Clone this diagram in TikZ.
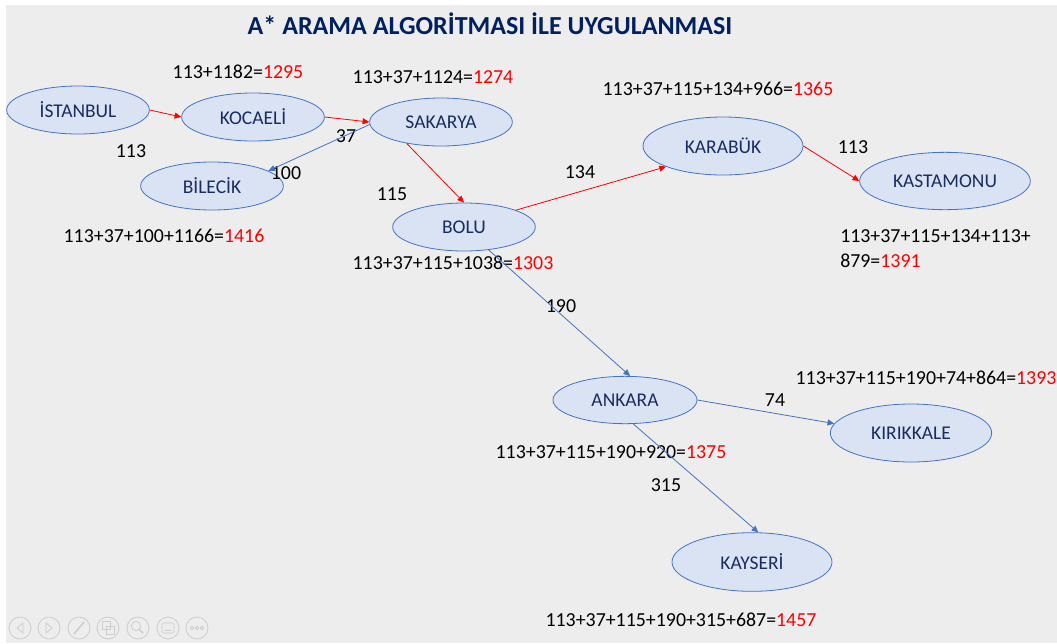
\documentclass[tikz,border=0pt]{standalone}
\usepackage{fontspec}
\setmainfont{Carlito}
\usetikzlibrary{arrows.meta, shapes.geometric}
\definecolor{slidegray}{RGB}{237,237,237}
\definecolor{citynavy}{RGB}{24,44,96}
\definecolor{titlenavy}{RGB}{0,32,96}
\definecolor{cityfill}{RGB}{218,227,243}
\definecolor{cityline}{RGB}{68,114,196}
\definecolor{pathred}{RGB}{255,0,0}
\definecolor{iconrim}{RGB}{205,205,205}
\tikzset{
    citynode/.style={ellipse, draw=cityline, fill=cityfill, line width=0.6pt, inner sep=0pt, minimum width=107pt, minimum height=36pt, font=\fontsize{14.6}{17}\selectfont, text=citynavy},
    citybig/.style={citynode, minimum width=120pt, minimum height=43.5pt},
    costlbl/.style={inner sep=0pt, font=\fontsize{14.9}{18.75}\selectfont, text=black},
    wlbl/.style={inner sep=0pt, font=\fontsize{14.9}{17}\selectfont, text=black},
    arrred/.style={-{Triangle[length=5pt, width=4.5pt]}, line width=0.6pt, color=pathred},
    arrblue/.style={-{Triangle[length=5pt, width=4.5pt]}, line width=0.6pt, color=cityline},
    iconbtn/.style={draw=iconrim, line width=0.6pt}
}
\begin{document}
\begin{tikzpicture}[x=0.75pt, y=-0.75pt]
        \useasboundingbox (0,0) rectangle (1057,643);
        \fill[white] (0,0) rectangle (1057,643);
        \fill[slidegray] (6,5) rectangle (1057,643);

        \node[font=\fontsize{19.5}{23}\selectfont\bfseries, text=titlenavy] (title) at (490,24) {A* ARAMA ALGORİTMASI İLE UYGULANMASI};

        \node[citynode] (ist) at (78,110) {İSTANBUL};
        \node[citynode] (koc) at (253,117) {KOCAELİ};
        \node[citynode] (sak) at (441,122) {SAKARYA};
        \node[citynode] (bil) at (212,186) {BİLECİK};
        \node[citynode] (bol) at (464,227) {BOLU};
        \node[citybig] (kar) at (723,146) {KARABÜK};
        \node[citybig, minimum width=128pt, minimum height=43pt] (kas) at (945,181) {KASTAMONU};
        \node[citynode, minimum width=108pt, minimum height=35.5pt] (ank) at (625,400) {ANKARA};
        \node[citybig, minimum width=121pt] (kir) at (911,433) {KIRIKKALE};
        \node[citybig, minimum height=44pt] (kay) at (752,562) {KAYSERİ};

        \node[costlbl] (fkoc) at (238,72) {113+1182=\textcolor{pathred}{1295}};
        \node[costlbl] (fsak) at (433,77) {113+37+1124=\textcolor{pathred}{1274}};
        \node[costlbl] (fbil) at (164,236) {113+37+100+1166=\textcolor{pathred}{1416}};
        \node[costlbl] (fbol) at (453,263) {113+37+115+1038=\textcolor{pathred}{1303}};
        \node[costlbl] (fkar) at (718,89) {113+37+115+134+966=\textcolor{pathred}{1365}};
        \node[costlbl, anchor=west, align=left] (fkas) at (840,248.5) {113+37+115+134+113+\\879=\textcolor{pathred}{1391}};
        \node[costlbl] (fkir) at (926,378) {113+37+115+190+74+864=\textcolor{pathred}{1393}};
        \node[costlbl] (fank) at (611,452) {113+37+115+190+920=\textcolor{pathred}{1375}};
        \node[costlbl] (fkay) at (681,620) {113+37+115+190+315+687=\textcolor{pathred}{1457}};

        \node[wlbl] (w113a) at (131,151) {113};
        \node[wlbl] (w37) at (346,136) {37};
        \node[wlbl] (w100) at (286,173) {100};
        \node[wlbl] (w115) at (392,194) {115};
        \node[wlbl] (w134) at (580,172) {134};
        \node[wlbl] (w113b) at (853,147) {113};
        \node[wlbl] (w190) at (561,306) {190};
        \node[wlbl] (w74) at (775,400) {74};
        \node[wlbl] (w315) at (666,485) {315};

        \draw[arrred] (ist.east) -- (koc.west);
        \draw[arrred] (koc.east) -- (sak.west);
        \draw[arrblue] (sak.182) -- (bil.15);
        \draw[arrred] (sak.212) -- (bol.north);
        \draw[arrred] (bol.18) -- (kar.200);
        \draw[arrred] (kar.east) -- (kas.west);
        \draw[arrblue] (bol.-43) -- (ank.78);
        \draw[arrblue] (ank.east) -- (kir.173);
        \draw[arrblue] (ank.-71) -- (kay.78);

        \foreach \ix in {20,49,79,108,138,168,197}
            \draw[iconbtn] (\ix,628) circle[radius=8.25pt];
        \draw[iconbtn] (23,623) -- (17,628) -- (23,633) -- cycle;
        \draw[iconbtn] (46,623) -- (52,628) -- (46,633) -- cycle;
        \draw[iconbtn, line width=1.2pt] (74,634) -- (84,622);
        \draw[iconbtn] (102,621) rectangle (110,629);
        \draw[iconbtn] (106,626) rectangle (114,634);
        \draw[iconbtn] (136,626) circle[radius=3.5pt];
        \draw[iconbtn, line width=1.2pt] (139,629) -- (143,633);
        \draw[iconbtn, rounded corners=1pt] (162,623) rectangle (174,633);
        \draw[iconbtn] (165,630) -- (171,630);
        \foreach \dx in {-5,0,5}
            \draw[iconbtn] (197+\dx,628) circle[radius=1.3pt];
    \end{tikzpicture}
\end{document}
